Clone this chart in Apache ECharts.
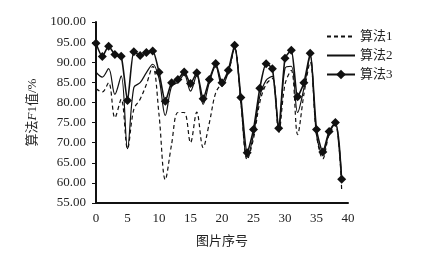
<!DOCTYPE html>
<html>
<head>
<meta charset="utf-8">
<script src="https://cdn.jsdelivr.net/npm/echarts@6/dist/echarts.min.js"></script>
<style>
    html, body { margin: 0; padding: 0; background: #fff; }
    #chart { width: 421px; height: 253px; }
</style>
</head>
<body>
<div id="chart"></div>
<script>
// 图片序号 0..39
var imageIndex = [0, 1, 2, 3, 4, 5, 6, 7, 8, 9, 10, 11, 12, 13, 14, 15, 16, 17, 18, 19,
    20, 21, 22, 23, 24, 25, 26, 27, 28, 29, 30, 31, 32, 33, 34, 35, 36, 37, 38, 39];
// 算法1 (虚线)
var algo1 = [83.4, 82.6, 84.9, 76.2, 80.8, 68.5, 78.3, 80.8, 84.5, 89.0,
    77.0, 60.8, 69.6, 77.5, 77.5, 70.0, 77.6, 68.8, 75.0, 82.4,
    84.9, 87.5, 93.5, 80.0, 65.8, 71.0, 80.0, 84.5, 86.0, 72.5,
    84.5, 88.0, 72.0, 82.0, 90.0, 72.0, 66.0, 72.0, 74.5, 58.0];
// 算法2 (实线)
var algo2 = [87.5, 86.3, 88.4, 82.0, 86.6, 68.5, 83.7, 84.9, 87.4, 89.5,
    86.0, 76.8, 84.0, 85.0, 87.0, 82.8, 86.8, 79.5, 85.0, 89.0,
    84.0, 87.5, 93.5, 80.0, 66.4, 72.0, 81.5, 85.5, 86.5, 73.0,
    88.5, 89.0, 77.5, 83.5, 91.5, 72.0, 67.0, 72.5, 74.8, 60.5];
// 算法3 (菱形标记)
var algo3 = [94.7, 91.4, 94.0, 91.9, 91.5, 80.5, 92.6, 91.7, 92.4, 92.8,
    87.5, 80.3, 84.9, 85.7, 87.6, 84.7, 87.4, 80.9, 85.7, 89.7,
    84.9, 88.0, 94.2, 81.2, 67.5, 73.3, 83.5, 89.6, 88.4, 73.6,
    91.0, 93.0, 81.4, 84.9, 92.2, 73.3, 67.7, 72.8, 75.0, 60.9];
// 纵轴刻度
var yTicks = [55, 60, 65, 70, 75, 80, 85, 90, 95, 100];

/**
 * 组合成 [x, y] 数据
 */
function pairs(values) {
    return values.map(function (v, i) {
        return [imageIndex[i], v];
    });
}

var serifFont = '"Liberation Serif", "Noto Sans CJK SC", serif';

var myChart = echarts.init(document.getElementById('chart'));
var option = {
    animation: false,
    backgroundColor: '#fff',
    textStyle: {
        fontFamily: serifFont,
        color: '#222'
    },
    grid: {
        left: 96,
        right: 73,
        top: 22,
        bottom: 50
    },
    legend: {
        orient: 'vertical',
        left: 321,
        top: 25,
        itemWidth: 28,
        itemHeight: 12,
        itemGap: 6,
        textStyle: {
            fontFamily: serifFont,
            fontSize: 13,
            color: '#222'
        },
        data: [
            {name: '算法1', itemStyle: {opacity: 0}},
            {name: '算法2', itemStyle: {opacity: 0}},
            {name: '算法3'}
        ]
    },
    xAxis: {
        type: 'value',
        min: 0,
        max: 40,
        interval: 5,
        name: '图片序号',
        nameLocation: 'middle',
        nameGap: 32,
        nameTextStyle: {
            fontFamily: serifFont,
            fontSize: 13,
            color: '#222'
        },
        axisLine: {
            lineStyle: {color: '#111', width: 2}
        },
        axisTick: {show: false},
        splitLine: {show: false},
        axisLabel: {
            fontFamily: serifFont,
            fontSize: 13,
            color: '#222',
            margin: 9
        }
    },
    yAxis: {
        type: 'value',
        min: yTicks[0],
        max: yTicks[yTicks.length - 1],
        interval: 5,
        name: '算法{i|F}1值/%',
        nameLocation: 'middle',
        nameGap: 47,
        nameRotate: 90,
        nameTextStyle: {
            fontFamily: serifFont,
            fontSize: 13,
            color: '#222',
            rich: {
                i: {
                    fontFamily: serifFont,
                    fontStyle: 'italic',
                    fontSize: 13,
                    color: '#222'
                }
            }
        },
        axisLine: {
            show: true,
            lineStyle: {color: '#111', width: 2}
        },
        axisTick: {
            show: true,
            length: 4,
            lineStyle: {color: '#111', width: 1}
        },
        splitLine: {show: false},
        axisLabel: {
            fontFamily: serifFont,
            fontSize: 13,
            color: '#222',
            margin: 10,
            formatter: function (v) {
                return v.toFixed(2);
            }
        }
    },
    series: [
        {
            name: '算法1',
            type: 'line',
            smooth: 0.35,
            symbol: 'none',
            lineStyle: {color: '#111', width: 1.2, type: [4, 3]},
            itemStyle: {color: '#111'},
            data: pairs(algo1)
        },
        {
            name: '算法2',
            type: 'line',
            smooth: 0.35,
            symbol: 'none',
            lineStyle: {color: '#111', width: 1.2},
            itemStyle: {color: '#111'},
            data: pairs(algo2)
        },
        {
            name: '算法3',
            type: 'line',
            smooth: 0.2,
            symbol: 'diamond',
            symbolSize: 9,
            lineStyle: {color: '#111', width: 1.6},
            itemStyle: {color: '#111'},
            data: pairs(algo3)
        }
    ]
};
myChart.setOption(option, true);
</script>
</body>
</html>
